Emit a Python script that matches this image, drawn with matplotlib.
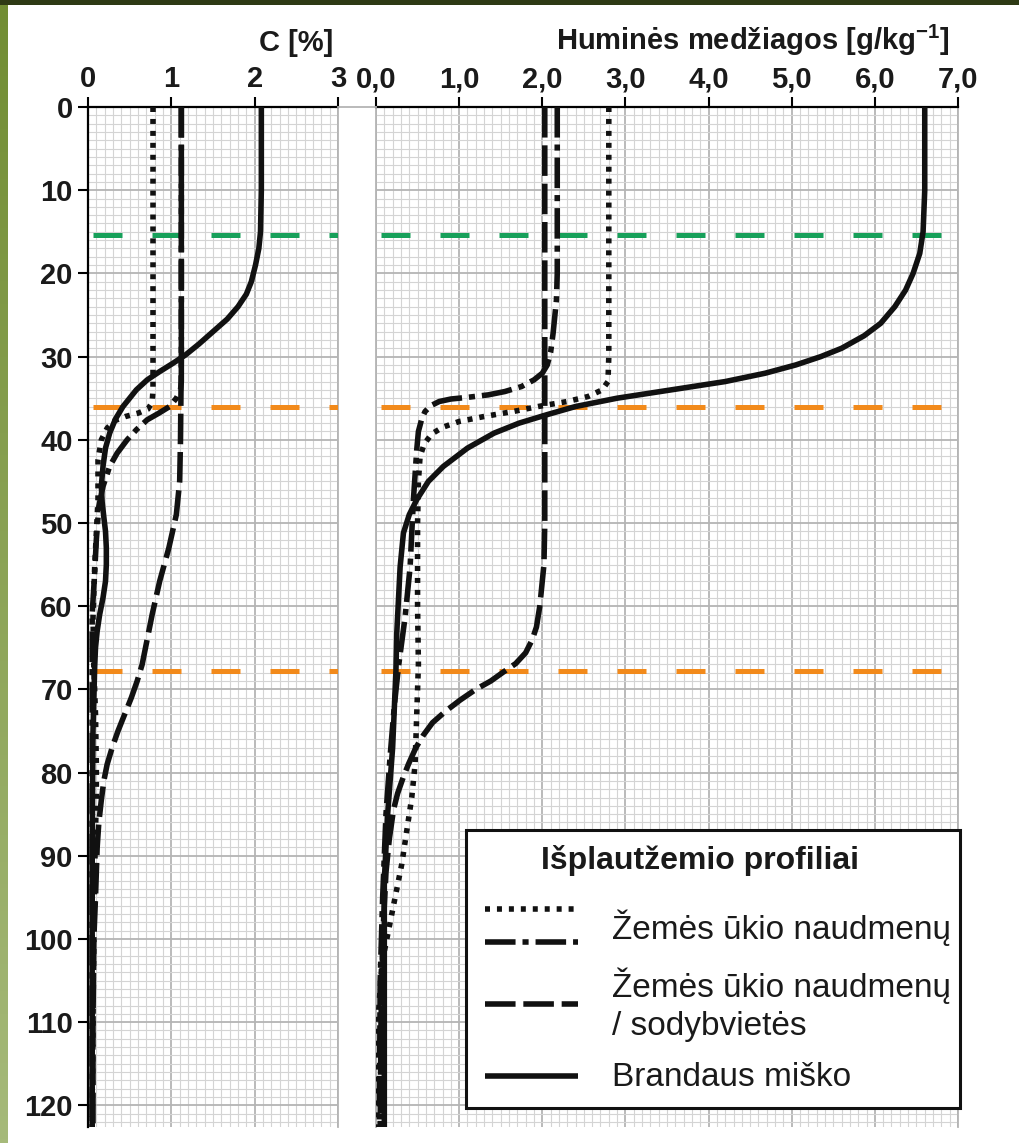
import matplotlib
matplotlib.use("Agg")
import matplotlib.pyplot as plt
import matplotlib.patches as mpatches
from matplotlib.ticker import MultipleLocator, FuncFormatter
import numpy as np

plt.rcParams.update({
    "font.family": ["Liberation Sans", "DejaVu Sans"],
    "mathtext.fontset": "custom",
    "mathtext.rm": "Liberation Sans",
    "mathtext.bf": "Liberation Sans:bold",
})

W, H = 1019, 1143
DEPTH_MAX = 122.6

# ---- C [%] panel -------------------------------------------------------
c_dot_depth = [0, 10, 20, 30, 34, 35.5, 36.3, 36.8, 37.2, 37.7, 38.6, 40,
               42.4, 47.2, 51.2, 55.3, 61.3, 67.3, 73, 79, 83, 87, 92, 100,
               110, DEPTH_MAX]
c_dot_val = [0.78, 0.78, 0.78, 0.78, 0.78, 0.77, 0.72, 0.60, 0.45, 0.32,
             0.23, 0.16, 0.12, 0.12, 0.10, 0.08, 0.06, 0.07, 0.09, 0.10,
             0.10, 0.09, 0.08, 0.07, 0.06, 0.05]

c_dd_depth = [0, 10, 20, 30, 33, 34, 35, 36, 36.8, 37.6, 38.8, 40, 41.6,
              43.2, 45.6, 48, 52, 56, 61, 70, 80, 100, DEPTH_MAX]
c_dd_val = [1.12, 1.12, 1.12, 1.12, 1.12, 1.11, 1.06, 0.98, 0.85, 0.71,
            0.58, 0.47, 0.35, 0.26, 0.18, 0.13, 0.10, 0.08, 0.05, 0.05,
            0.05, 0.05, 0.05]

c_dash_depth = [0, 10, 20, 30, 40, 45, 49, 53, 57, 61, 65, 67, 69, 71, 73,
                75, 77, 79, 81, 83.3, 86, 89, 95, 100, 110, DEPTH_MAX]
c_dash_val = [1.12, 1.12, 1.12, 1.12, 1.11, 1.10, 1.06, 0.97, 0.86, 0.77,
              0.69, 0.65, 0.59, 0.52, 0.44, 0.36, 0.29, 0.23, 0.19, 0.16,
              0.13, 0.11, 0.09, 0.07, 0.06, 0.06]

c_solid_depth = [0, 10, 15, 17, 19, 21, 22.5, 24, 25.5, 27, 28.5, 29.8,
                 30.8, 31.8, 32.8, 34, 35, 36, 37.5, 39.2, 41, 43.2, 45.6,
                 47.5, 49.3, 51, 53, 55, 57, 59, 61, 63, 65, 67.3, 75, 90,
                 DEPTH_MAX]
c_solid_val = [2.08, 2.08, 2.07, 2.05, 2.01, 1.96, 1.90, 1.80, 1.67, 1.50,
               1.33, 1.17, 1.02, 0.86, 0.71, 0.58, 0.50, 0.42, 0.33, 0.26,
               0.21, 0.18, 0.16, 0.17, 0.19, 0.21, 0.22, 0.22, 0.21, 0.18,
               0.14, 0.11, 0.09, 0.08, 0.06, 0.05, 0.05]

# ---- Huminės medžiagos panel --------------------------------------------
h_dot_depth = [0, 10, 20, 30, 33, 34, 34.8, 35.4, 36, 36.6, 37.2, 37.8,
               38.5, 39.3, 40.5, 42, 45, 50, 55, 60, 67, 73, 79, 83, 87, 91,
               95, 99, 103, 109, DEPTH_MAX]
h_dot_val = [2.80, 2.80, 2.80, 2.80, 2.79, 2.72, 2.55, 2.30, 1.95, 1.65,
             1.30, 1.00, 0.80, 0.67, 0.58, 0.53, 0.51, 0.50, 0.50, 0.50,
             0.51, 0.49, 0.47, 0.43, 0.37, 0.31, 0.23, 0.15, 0.07, 0.03,
             0.01]

h_dd_depth = [0, 10, 20, 23.2, 27.2, 29.5, 31, 32, 32.8, 33.6, 34.2, 34.6,
              34.9, 35.1, 35.4, 35.9, 36.6, 37.5, 39, 41.2, 47.2, 55.3, 61.3,
              67.3, 72, 78, 85, 95, 105, DEPTH_MAX]
h_dd_val = [2.18, 2.18, 2.18, 2.17, 2.13, 2.10, 2.06, 2.00, 1.90, 1.75,
            1.55, 1.35, 1.10, 0.90, 0.76, 0.66, 0.59, 0.55, 0.51, 0.49,
            0.45, 0.41, 0.35, 0.27, 0.22, 0.17, 0.12, 0.08, 0.05, 0.04]

h_dash_depth = [0, 10, 20, 30, 40, 50, 55, 57, 60, 62.5, 64, 65.6, 66.9, 68,
                69, 70, 71.3, 72.6, 74, 75.5, 77, 79, 80.5, 82.5, 84.5, 88,
                92, 100, 110, DEPTH_MAX]
h_dash_val = [2.03, 2.03, 2.03, 2.03, 2.03, 2.03, 2.02, 2.00, 1.97, 1.93,
              1.88, 1.80, 1.68, 1.52, 1.38, 1.20, 1.01, 0.84, 0.68, 0.57,
              0.48, 0.39, 0.33, 0.26, 0.21, 0.16, 0.12, 0.08, 0.06, 0.05]

h_solid_depth = [0, 10, 15, 17.6, 20, 22, 24, 26, 27.5, 29, 30, 31, 32, 33,
                 34, 35, 36, 37, 38, 39.2, 41, 43.2, 45, 47.2, 49, 51.2, 55.3,
                 63.2, 67.7, 77, 85, 93, 105, DEPTH_MAX]
h_solid_val = [6.60, 6.60, 6.58, 6.54, 6.46, 6.37, 6.24, 6.07, 5.87, 5.60,
               5.35, 5.05, 4.68, 4.20, 3.55, 2.90, 2.40, 2.05, 1.72, 1.42,
               1.10, 0.81, 0.63, 0.49, 0.40, 0.33, 0.29, 0.25, 0.24, 0.20,
               0.14, 0.10, 0.10, 0.10]

green_depths = [15.4]
orange_depths = [36.1, 67.8]

legend_title = "Išplautžemio profiliai"
legend_labels = ["Žemės ūkio naudmenų", "Žemės ūkio naudmenų\n/ sodybvietės",
                 "Brandaus miško"]

GREEN = "#17a05a"
ORANGE = "#f28a1b"
LW = 4.0
LW_REF = 3.6
STY_DOT = (0, (0.9, 1.25))
STY_DD = (0, (5.5, 1.25, 1.1, 1.25))
STY_DASH = (0, (5.5, 1.4))
STY_REF = (10.8, (5.8, 6.0))
MINOR_C = "#d4d4d4"
MAJOR_C = "#b4b4b4"


def px_box(x0, y0, x1, y1):
    return [x0 / W, 1 - y1 / H, (x1 - x0) / W, (y1 - y0) / H]


fig = plt.figure(figsize=(W / 100, H / 100), dpi=100)
fig.patch.set_facecolor("white")

ax_c = fig.add_axes(px_box(88, 107, 338, 1127))
ax_h = fig.add_axes(px_box(376, 107, 958, 1127))

series = [
    (ax_c, c_solid_depth, c_solid_val, "-"),
    (ax_c, c_dash_depth, c_dash_val, STY_DASH),
    (ax_c, c_dd_depth, c_dd_val, STY_DD),
    (ax_c, c_dot_depth, c_dot_val, STY_DOT),
    (ax_h, h_solid_depth, h_solid_val, "-"),
    (ax_h, h_dash_depth, h_dash_val, STY_DASH),
    (ax_h, h_dd_depth, h_dd_val, STY_DD),
    (ax_h, h_dot_depth, h_dot_val, STY_DOT),
]
for ax, d, v, ls in series:
    ax.plot(v, d, color="#111111", lw=LW, linestyle=ls,
            solid_capstyle="butt", dash_capstyle="butt",
            solid_joinstyle="round", zorder=4)

for ax, xmax in [(ax_c, 3), (ax_h, 7)]:
    for yd in green_depths:
        ax.axhline(yd, color=GREEN, lw=LW_REF, linestyle=STY_REF,
                   dash_capstyle="butt", zorder=3)
    for yd in orange_depths:
        ax.axhline(yd, color=ORANGE, lw=LW_REF, linestyle=STY_REF,
                   dash_capstyle="butt", zorder=3)

    ax.set_xlim(0, xmax)
    ax.set_ylim(DEPTH_MAX, 0)
    ax.xaxis.set_major_locator(MultipleLocator(1))
    ax.xaxis.set_minor_locator(MultipleLocator(0.1))
    ax.yaxis.set_major_locator(MultipleLocator(10))
    ax.yaxis.set_minor_locator(MultipleLocator(1))
    ax.grid(which="minor", color=MINOR_C, lw=0.8, zorder=0)
    ax.grid(which="major", color=MAJOR_C, lw=1.3, zorder=0)
    ax.set_axisbelow(True)
    ax.xaxis.tick_top()
    ax.tick_params(axis="x", which="major", length=7, width=1.5, pad=3,
                   labelsize=21, direction="out")
    ax.tick_params(which="minor", length=0)
    ax.spines["top"].set_linewidth(1.6)
    ax.spines["bottom"].set_visible(False)
    ax.spines["right"].set_color(MAJOR_C)
    ax.spines["right"].set_linewidth(1.3)

ax_c.spines["left"].set_linewidth(1.6)
ax_c.tick_params(axis="y", which="major", length=7, width=1.5, pad=4,
                 labelsize=21, direction="out")
ax_c.xaxis.set_major_formatter(FuncFormatter(lambda v, p: f"{v:.0f}"))
ax_h.xaxis.set_major_formatter(
    FuncFormatter(lambda v, p: f"{v:.1f}".replace(".", ",")))
ax_h.spines["left"].set_color(MAJOR_C)
ax_h.spines["left"].set_linewidth(1.3)
ax_h.tick_params(axis="y", which="both", left=False, labelleft=False)
for ax in (ax_c, ax_h):
    for lab in ax.get_xticklabels() + ax.get_yticklabels():
        lab.set_fontweight("bold")
        lab.set_color("#1a1a1a")

# overlay in pixel coordinates for titles, legend and frame
ov = fig.add_axes([0, 0, 1, 1], zorder=10)
ov.patch.set_alpha(0)
ov.axis("off")

ov.plot([338, 376], [107, 107], color=MAJOR_C, lw=1.3)

ov.text(333, 43, "C [%]", ha="right", va="center", fontsize=21,
        fontweight="bold", color="#1a1a1a")
ov.text(950, 40, r"Huminės medžiagos [g/kg$^{\mathbf{-1}}$]", ha="right",
        va="center", fontsize=21, fontweight="bold", color="#1a1a1a")

# legend
ov.add_patch(mpatches.Rectangle((466, 830), 494, 278, facecolor="white",
                                edgecolor="#111111", lw=2.2, zorder=5))
ov.text(700, 861, legend_title, ha="center", va="center", fontsize=23,
        fontweight="bold", color="#1a1a1a", zorder=6)
samples = [(909, STY_DOT), (942, STY_DD), (1004, STY_DASH), (1076, "-")]
for ys, ls in samples:
    ov.plot([485, 578], [ys, ys], color="#111111", lw=LW, linestyle=ls,
            solid_capstyle="butt", dash_capstyle="butt", zorder=6)
ov.text(612, 928, legend_labels[0], ha="left", va="center", fontsize=24,
        color="#1a1a1a", zorder=6)
ov.text(612, 1005, legend_labels[1], ha="left", va="center", fontsize=24,
        color="#1a1a1a", linespacing=1.3, zorder=6)
ov.text(612, 1077, legend_labels[2], ha="left", va="center", fontsize=24,
        color="#1a1a1a", zorder=6)

# frame: dark top band and olive left strip
grad = np.linspace(0, 1, 256).reshape(-1, 1)
cmap = matplotlib.colors.LinearSegmentedColormap.from_list(
    "olive", ["#718d33", "#a6ba7a"])
ov.imshow(grad, cmap=cmap, extent=(0, 8, H, 0), aspect="auto", zorder=8)
ov.add_patch(mpatches.Rectangle((0, 0), W, 5, facecolor="#2e3a14",
                                edgecolor="none", zorder=9))
ov.set_xlim(0, W)
ov.set_ylim(H, 0)

fig.savefig("out.png", dpi=100)
